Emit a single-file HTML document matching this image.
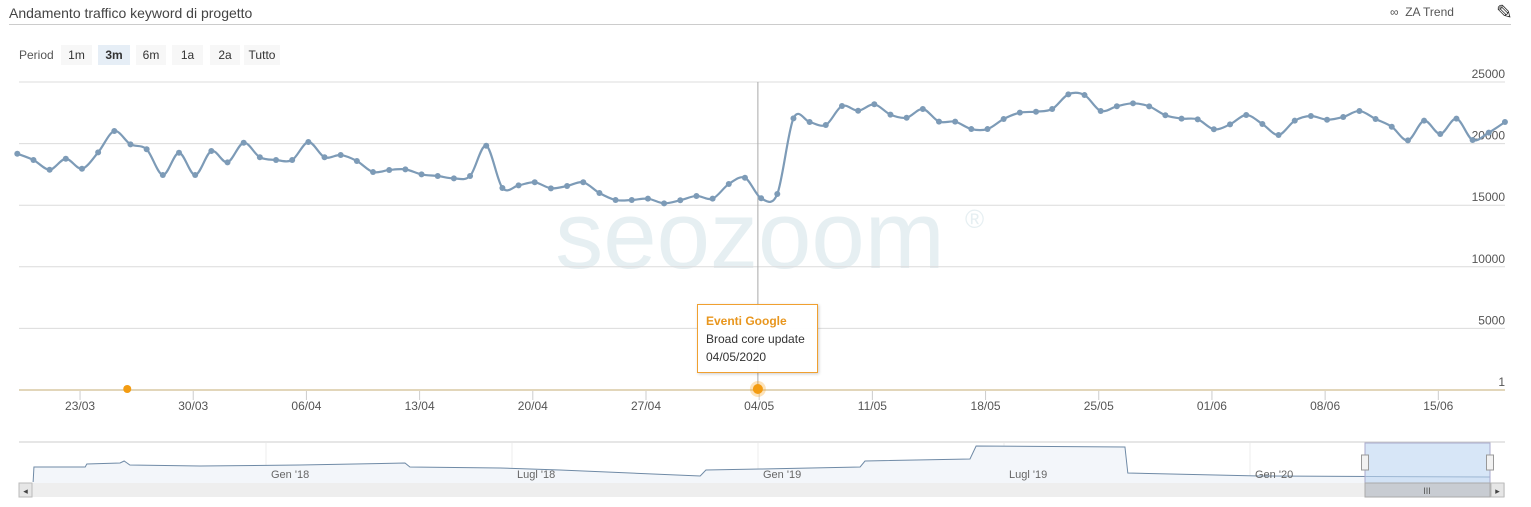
<!DOCTYPE html>
<html><head><meta charset="utf-8"><style>
body{margin:0;background:#fff;font-family:"Liberation Sans",sans-serif;}
#wrap{position:relative;width:1531px;height:507px;overflow:hidden;}
.btn{position:absolute;top:45px;height:20px;line-height:20px;font-size:12px;color:#333;background:#f7f7f7;text-align:center;}
</style></head><body>
<div id="wrap">
<div style="position:absolute;left:9px;top:5px;font-size:14px;color:#444;">Andamento traffico keyword di progetto</div>
<div style="position:absolute;left:9px;top:24px;width:1502px;height:1px;background:#ccc;"></div>
<div style="position:absolute;left:1390px;top:5px;font-size:12px;color:#555;">∞&nbsp; ZA Trend</div>
<div style="position:absolute;left:1496px;top:0px;font-size:20px;color:#333;">✎</div>
<div style="position:absolute;left:19px;top:48px;font-size:12px;color:#555;">Period</div>
<div class="btn" style="left:61px;width:31px;">1m</div>
<div class="btn" style="left:98px;width:32px;background:#e6eef6;font-weight:bold;">3m</div>
<div class="btn" style="left:136px;width:30px;">6m</div>
<div class="btn" style="left:172px;width:31px;">1a</div>
<div class="btn" style="left:210px;width:30px;">2a</div>
<div class="btn" style="left:244px;width:36px;">Tutto</div>
<svg id="svg" width="1531" height="507" style="position:absolute;left:0;top:0"></svg>
<div style="position:absolute;left:697px;top:304px;width:121px;height:69px;border:1px solid #f0a030;background:rgba(255,255,255,0.95);box-shadow:1px 1px 3px rgba(0,0,0,0.2);font-size:12px;color:#333;line-height:18px;padding:0 0 0 8px;box-sizing:border-box;">
<div style="color:#e8961e;font-weight:bold;margin-top:7px;">Eventi Google</div><div>Broad core update</div><div>04/05/2020</div></div>
</div>
<script>
const values=[19180,18670,17880,18770,17960,19290,21020,19940,19540,17450,19260,17450,19400,18480,20070,18890,18670,18670,20130,18890,19070,18590,17690,17860,
17910,17500,17370,17180,17370,19830,16400,16610,16860,16370,16560,16860,15990,15420,15420,15530,15150,15400,15750,15530,16720,17230,
15560,15910,22050,21750,21510,23050,22670,23190,22350,22100,22810,21780,21780,21180,21180,22000,22510,22590,22810,24000,23940,22650,23030,23270,
23020,22300,22030,21970,21160,21560,22320,21590,20700,21860,22240,21940,22160,22650,22000,21370,20260,21860,20780,22030,20290,20890,21750];
const yTicks=[25000,20000,15000,10000,5000,1];
const xTickLabels=["23/03","30/03","06/04","13/04","20/04","27/04","04/05","11/05","18/05","25/05","01/06","08/06","15/06"];
const xTickIdx=[3.88,10.88,17.88,24.88,31.88,38.88,45.88,52.88,59.88,66.88,73.88,80.88,87.88];
const eventIdx=[6.8,45.8];
const navMonths=[-5.68,-5.66,-4.41,-4.37,-3.56,-3.46,-3.32,-1.61,0.83,3.39,3.51,5.71,7.17,10.59,10.73,12.05,14.49,14.61,17.17,17.32,20.95,21.02,24.24,29.85];
const navValues=[0,9750,9750,11700,12350,13650,11050,10400,11050,12350,9750,9100,7800,3900,7800,8450,9750,13650,14950,23400,22750,5850,3900,3250];
const navLabels=["Gen '18","Lugl '18","Gen '19","Lugl '19","Gen '20"];
const navLabelMonths=[0,6,12,18,24];

const NS="http://www.w3.org/2000/svg",svg=document.getElementById('svg');
function mk(t,a,p){const e=document.createElementNS(NS,t);for(const k in a)e.setAttribute(k,a[k]);(p||svg).appendChild(e);return e;}
const X=i=>17.3+i*16.17, Y=v=>390-v*0.01232;
const NX=m=>266+m*41, NY=v=>482-v/650;

// watermark
let wm=mk('text',{x:750,y:268,'text-anchor':'middle','font-size':96,fill:'#e6eff2','font-family':'Liberation Sans, sans-serif'});
wm.textContent='seozoom';


let wr=mk('text',{x:965,y:228,'font-size':26,fill:'#e6eff2'});wr.textContent='®';



yTicks.forEach(v=>{
 if(v>1){let g=mk('line',{x1:19,x2:1505,y1:Y(v),y2:Y(v),stroke:'#dcdcdc'});
 
 }
 let t=mk('text',{x:1505,y:Y(v)-4,'text-anchor':'end','font-size':12,fill:'#555'});t.textContent=String(v);
 
 
});
// crosshair
let ch=mk('line',{x1:X(eventIdx[1]),x2:X(eventIdx[1]),y1:Y(25000),y2:390,stroke:'#aaa'});


// axis
let ax=mk('line',{x1:19,x2:1505,y1:390,y2:390,stroke:'#d9c9a3','stroke-width':1.5});


xTickIdx.forEach((ix,k)=>{
 let l=mk('line',{x1:X(ix),x2:X(ix),y1:391,y2:400,stroke:'#ccc'});
 
 
 let t=mk('text',{x:X(ix),y:410,'text-anchor':'middle','font-size':12,fill:'#555'});t.textContent=xTickLabels[k];
 
 
});
// smooth line
const pts=values.map((v,i)=>[X(i),Y(v)]);
let d='M'+pts[0][0]+','+pts[0][1];
for(let i=0;i<pts.length-1;i++){const p0=pts[Math.max(0,i-1)],p1=pts[i],p2=pts[i+1],p3=pts[Math.min(pts.length-1,i+2)];
 const t=0.16;d+=` C${p1[0]+(p2[0]-p0[0])*t},${p1[1]+(p2[1]-p0[1])*t} ${p2[0]-(p3[0]-p1[0])*t},${p2[1]-(p3[1]-p1[1])*t} ${p2[0]},${p2[1]}`;}
let ln=mk('path',{d:d,fill:'none',stroke:'#7d9bb7','stroke-width':2.2});


pts.forEach(p=>{let c=mk('circle',{cx:p[0],cy:p[1],r:3,fill:'#7d9bb7'});
 
 });
// events
eventIdx.forEach((ix,k)=>{
 if(k==1){let h=mk('circle',{cx:X(ix),cy:389,r:8,fill:'#f7a11a','fill-opacity':0.3});
 
 }
 let c=mk('circle',{cx:X(ix),cy:389,r:k==1?5:4,fill:'#f39c12'});
 
 
});
// navigator
let nb=mk('line',{x1:19,x2:1505,y1:442,y2:442,stroke:'#ccc'});


navLabelMonths.forEach((m,k)=>{
 let g=mk('line',{x1:NX(m),x2:NX(m),y1:443,y2:483,stroke:'#eee'});
 
 
});
let np=navMonths.map((m,i)=>[NX(m),NY(navValues[i])]);
let nd='M'+np.map(p=>p.join(',')).join(' L');
let na=mk('path',{d:nd+` L${np[np.length-1][0]},483 L${np[0][0]},483 Z`,fill:'#f3f6fa'});


let nl=mk('path',{d:nd,fill:'none',stroke:'#6f8aa6','stroke-width':1});


navLabelMonths.forEach((m,k)=>{
 let t=mk('text',{x:NX(m)+5,y:478,'font-size':11,fill:'#666'});t.textContent=navLabels[k];
 
 
});
let sel=mk('rect',{x:1365,y:443,width:125,height:40,fill:'#bcd6f2','fill-opacity':0.6,stroke:'#aac'});


[1365,1490].forEach(x=>{let h=mk('rect',{x:x-3.5,y:455,width:7,height:15,fill:'#f2f2f2',stroke:'#999'});
 
 });
let sb=mk('rect',{x:19,y:483,width:1486,height:14,fill:'#eee'});


let th=mk('rect',{x:1365,y:483,width:125,height:14,fill:'#c8ccd2',stroke:'#aaa'});


let g3=mk('text',{x:1427,y:494,'text-anchor':'middle','font-size':9,fill:'#555'});g3.textContent='III';


[[19,'◂'],[1491,'▸']].forEach(([x,s])=>{let b=mk('rect',{x:x,y:483,width:13,height:14,fill:'#e6e6e6',stroke:'#bbb'});
 
 
 let t=mk('text',{x:x+6.5,y:494,'text-anchor':'middle','font-size':9,fill:'#444'});t.textContent=s;
 
 });
</script>
</body></html>
